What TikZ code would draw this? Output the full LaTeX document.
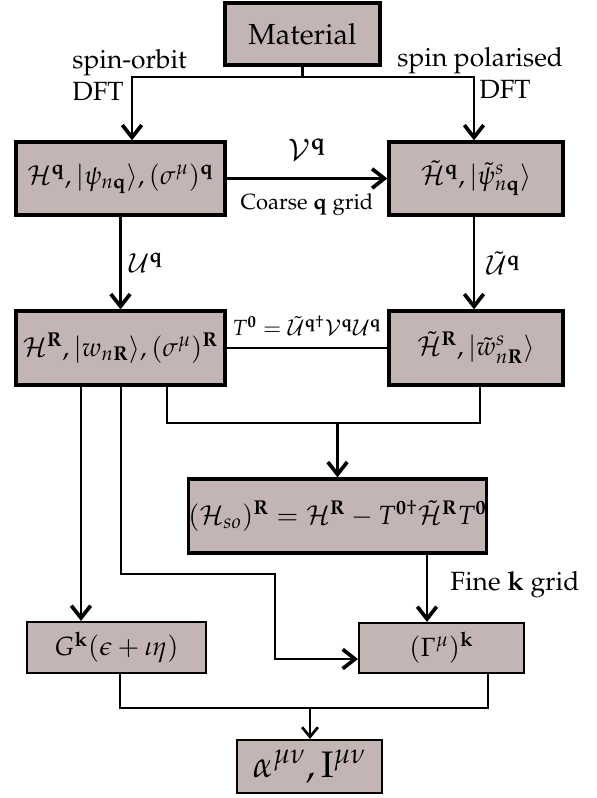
\documentclass[tikz,border=0pt]{standalone}
\usepackage[T1]{fontenc}
\usepackage{mathpazo}
\usepackage{amsmath}
\usepackage{xcolor}
\usepackage{tikz}
\usetikzlibrary{arrows.meta, positioning, calc}
\definecolor{boxfill}{RGB}{196,181,181}

\begin{document}
\begin{tikzpicture}[
        x=0.02cm, y=-0.02cm,
        font=\fontsize{15}{18}\selectfont,
        box/.style={draw, line width=1.9pt, fill=boxfill, inner sep=0pt, align=center},
        smallbox/.style={box, line width=1.2pt},
        lbl/.style={inner sep=0pt},
        wire/.style={line width=1.5pt},
        arr/.style={-{Straight Barb[length=7pt, width=11pt, line width=2.1pt]}, line width=1.6pt},
        thinwire/.style={line width=1.1pt},
        thinarr/.style={-{Straight Barb[length=5.5pt, width=9pt, line width=1.5pt]}, line width=1.1pt}
    ]
        \useasboundingbox (0,0) rectangle (596,798);

        % boxes
        \node[box, minimum width=3.1cm, minimum height=1.24cm, font=\fontsize{16.5}{19}\selectfont] (mat) at (302.5,34) {Material};
        \node[box, minimum width=4.18cm, minimum height=1.46cm] (hq) at (120.5,178.5)
            {$\mathcal{H}^{\mathbf{q}}, |\psi_{n\mathbf{q}}\rangle, (\sigma^{\mu})^{\mathbf{q}}$};
        \node[box, minimum width=3.48cm, minimum height=1.46cm] (htq) at (476,178.5)
            {$\tilde{\mathcal{H}}^{\mathbf{q}}, |\tilde{\psi}^{s}_{n\mathbf{q}}\rangle$};
        \node[box, minimum width=4.18cm, minimum height=1.48cm] (hr) at (120.5,348)
            {$\mathcal{H}^{\mathbf{R}}, |w_{n\mathbf{R}}\rangle, (\sigma^{\mu})^{\mathbf{R}}$};
        \node[box, minimum width=3.48cm, minimum height=1.48cm] (htr) at (476,348)
            {$\tilde{\mathcal{H}}^{\mathbf{R}}, |\tilde{w}^{s}_{n\mathbf{R}}\rangle$};
        \node[box, minimum width=5.62cm, minimum height=1.48cm] (hso) at (337.5,516)
            {$(\mathcal{H}_{so})^{\mathbf{R}} = \mathcal{H}^{\mathbf{R}} - T^{\mathbf{0}\dagger}\tilde{\mathcal{H}}^{\mathbf{R}}T^{\mathbf{0}}$};
        \node[smallbox, minimum width=3.58cm, minimum height=1.02cm] (gk) at (116.5,647.5)
            {$G^{\mathbf{k}}(\epsilon + \iota\eta)$};
        \node[smallbox, minimum width=3.3cm, minimum height=1.0cm] (gam) at (441.5,648)
            {$(\Gamma^{\mu})^{\mathbf{k}}$};
        \node[smallbox, minimum width=2.9cm, minimum height=1.06cm, font=\fontsize{21}{24}\selectfont] (res) at (309.5,766.5)
            {$\alpha^{\mu\nu}, \mathrm{I}^{\mu\nu}$};

        % DFT branches
        \coordinate (brkL) at (132,77);
        \coordinate (brkR) at (474,77);
        \draw[arr] (mat.south) |- (brkL) -- (brkL |- hq.north);
        \draw[arr] (mat.south) |- (brkR) -- (brkR |- htq.north);
        \node[lbl, anchor=west] (soL) at (72,63) {spin-orbit};
        \node[lbl, anchor=west] (soD) at (72,91) {DFT};
        \node[lbl, anchor=west] (spL) at (397,61) {spin polarised};
        \node[lbl, anchor=west] (spD) at (479,89) {DFT};

        % coarse grid
        \draw[arr] (hq) -- node[lbl, above=0.34cm, font=\fontsize{17}{20}\selectfont] (vq) {$\mathcal{V}^{\mathbf{q}}$}
            node[lbl, below=0.28cm, font=\fontsize{12.5}{15}\selectfont] (cq) {Coarse $\mathbf{q}$ grid} (htq);
        \draw[arr] (hq) -- node[lbl, right=0.14cm] (uq) {$\mathcal{U}^{\mathbf{q}}$} (hr);
        \draw[arr] (htq.south -| brkR) -- node[lbl, right=0.22cm] (utq) {$\tilde{\mathcal{U}}^{\mathbf{q}}$} (htr.north -| brkR);
        \draw[wire] (hr) -- node[lbl, above=0.22cm, font=\fontsize{12.5}{15}\selectfont] (t0) {$T^{\mathbf{0}} = \tilde{\mathcal{U}}^{\mathbf{q}\dagger}\mathcal{V}^{\mathbf{q}}\mathcal{U}^{\mathbf{q}}$} (htr);

        % merge into H_so
        \coordinate (jL) at (167,423);
        \coordinate (jR) at (480,423);
        \draw[wire] (hr.south -| jL) -- (jL) -- (jR) -- (htr.south -| jR);
        \draw[arr] (hso.north |- jL) -- (hso.north);

        % fine grid
        \coordinate (fk) at (427,588);
        \draw[arr] (hso.south -| fk) -- (gam.north -| fk);
        \node[lbl, anchor=west] (fkl) at (450,585) {Fine $\mathbf{k}$ grid};
        \coordinate (gkx) at (81,500);
        \draw[arr] (hr.south -| gkx) -- (gk.north -| gkx);
        \coordinate (bendA) at (121,574);
        \coordinate (bendB) at (275,659);
        \draw[arr] (hr.south -| bendA) -- (bendA) -| (bendB) -- (gam.west |- bendB);

        % response
        \coordinate (mL) at (120,708);
        \coordinate (mR) at (488,708);
        \coordinate (mC) at (310,708);
        \draw[thinwire] (gk.south -| mL) -- (mL) -- (mR) -- (gam.south -| mR);
        \draw[thinarr] (mC) -- (res.north -| mC);
    \end{tikzpicture}
\end{document}
